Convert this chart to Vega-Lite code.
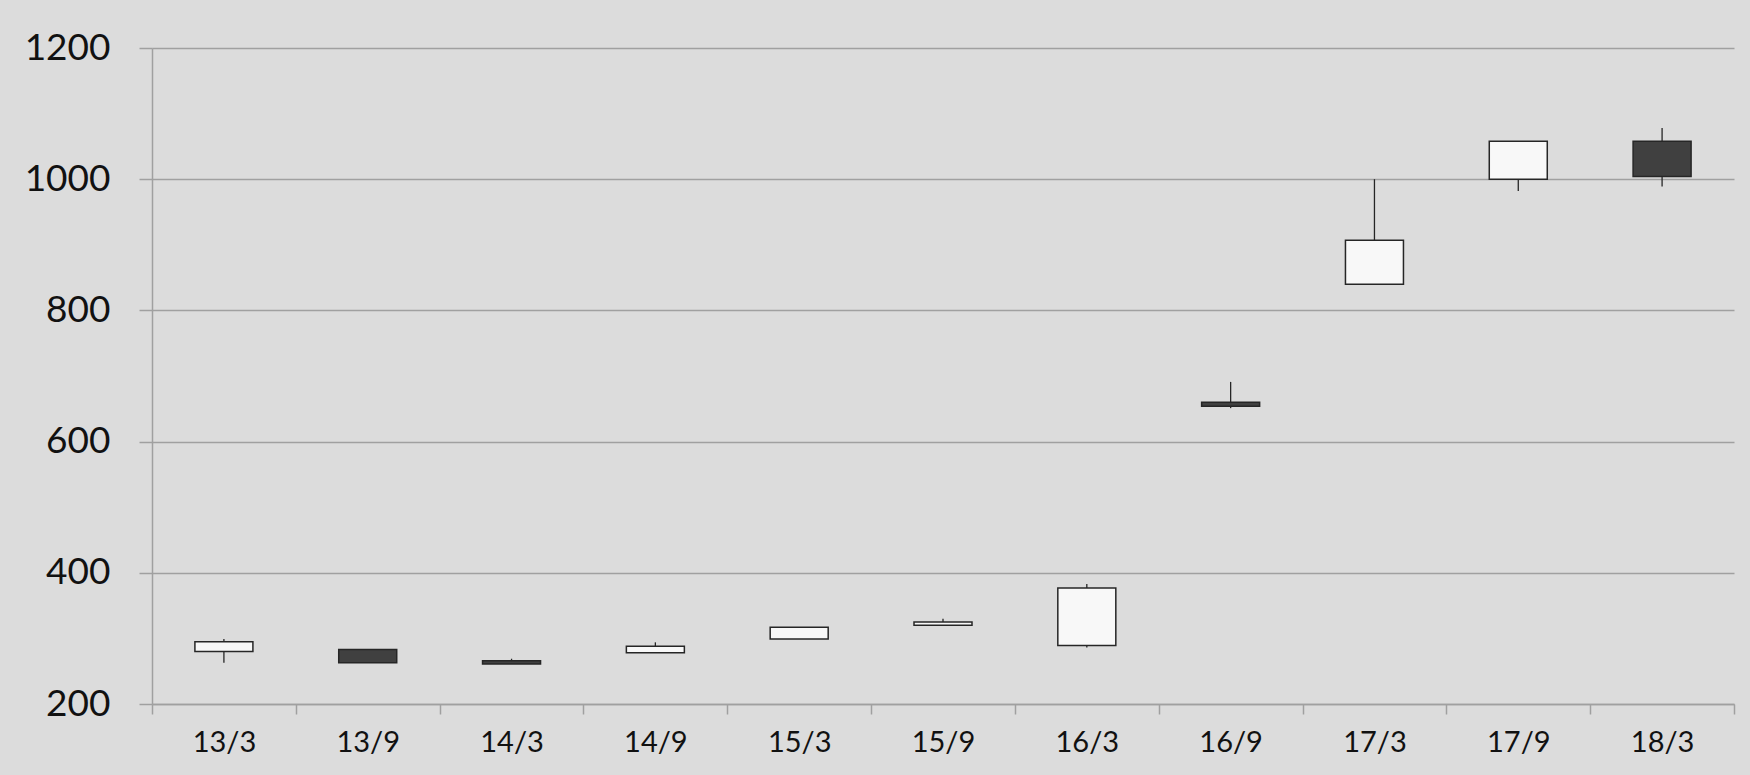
{
  "$schema": "https://vega.github.io/schema/vega-lite/v6.json",
  "autosize": {"type": "none"},
  "padding": {"left": 152, "top": 48, "right": 16, "bottom": 71},
  "width": 1582,
  "height": 656,
  "background": "#dcdcdc",
  "config": {
    "view": {"stroke": null, "fill": "#dcdcdc"},
    "font": "Lato"
  },
  "data": {
    "values": [
      {"period": "13/3", "open": 280, "close": 295, "high": 299, "low": 263},
      {"period": "13/9", "open": 283, "close": 263, "high": 283, "low": 263},
      {"period": "14/3", "open": 266, "close": 261, "high": 269, "low": 261},
      {"period": "14/9", "open": 278, "close": 288, "high": 294, "low": 278},
      {"period": "15/3", "open": 299, "close": 317, "high": 317, "low": 299},
      {"period": "15/9", "open": 320, "close": 325, "high": 330, "low": 320},
      {"period": "16/3", "open": 289, "close": 377, "high": 383, "low": 286},
      {"period": "16/9", "open": 660, "close": 654, "high": 691, "low": 651},
      {"period": "17/3", "open": 840, "close": 907, "high": 1000, "low": 840},
      {"period": "17/9", "open": 1000, "close": 1058, "high": 1058, "low": 982},
      {"period": "18/3", "open": 1058, "close": 1004, "high": 1078, "low": 989}
    ]
  },
  "encoding": {
    "x": {
      "field": "period",
      "type": "ordinal",
      "sort": null,
      "scale": {"paddingInner": 0, "paddingOuter": 0},
      "axis": {
        "title": null,
        "labelAngle": 0,
        "labelFontSize": 29,
        "labelColor": "#111111",
        "labelPadding": 14,
        "tickBand": "extent",
        "tickSize": 10,
        "tickColor": "#a0a0a0",
        "domainColor": "#a0a0a0",
        "tickWidth": 1.5,
        "domainWidth": 1.5
      }
    }
  },
  "layer": [
    {
      "mark": {"type": "rule", "color": "#262626", "strokeWidth": 1.3},
      "encoding": {
        "y": {
          "field": "low",
          "type": "quantitative",
          "scale": {"domain": [200, 1200], "nice": false, "zero": false},
          "axis": {
            "title": null,
            "format": "d",
            "values": [200, 400, 600, 800, 1000, 1200],
            "labelFontSize": 37,
            "labelColor": "#111111",
            "labelPadding": 29,
            "tickSize": 13,
            "tickColor": "#a0a0a0",
            "tickWidth": 1.5,
            "domainColor": "#a0a0a0",
            "domainWidth": 1.5,
            "grid": true,
            "gridColor": "#a0a0a0",
            "gridWidth": 1.5
          }
        },
        "y2": {"field": "high"}
      }
    },
    {
      "mark": {"type": "bar", "size": 58, "stroke": "#262626", "strokeWidth": 1.5},
      "encoding": {
        "y": {"field": "open", "type": "quantitative"},
        "y2": {"field": "close"},
        "fill": {
          "condition": {"test": "datum.close >= datum.open", "value": "#f8f8f8"},
          "value": "#404040"
        }
      }
    }
  ]
}
